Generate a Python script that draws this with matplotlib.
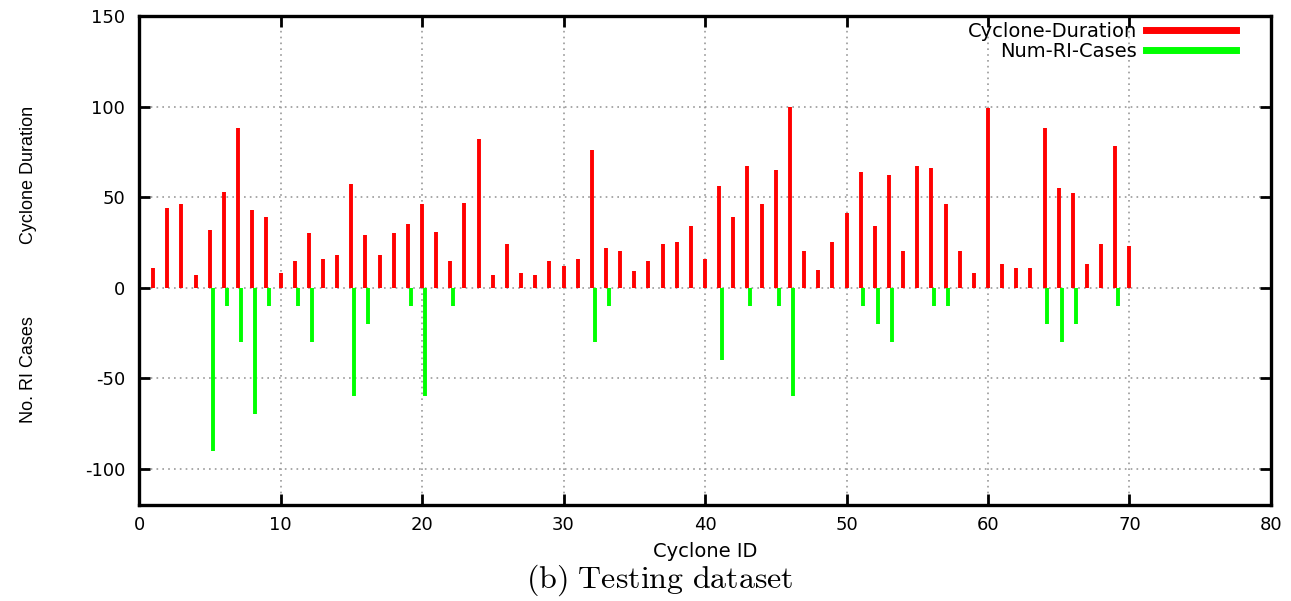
import matplotlib

matplotlib.use("Agg")

import matplotlib.pyplot as plt
from matplotlib.lines import Line2D

# Cyclone IDs 1..70 and their durations (hours).
cyclone_ids = list(range(1, 71))
cyclone_duration = [
    11, 44, 46, 7, 32, 53, 88, 43, 39, 8,
    15, 30, 16, 18, 57, 29, 18, 30, 35, 46,
    31, 15, 47, 82, 7, 24, 8, 7, 15, 12,
    16, 76, 22, 20, 9, 15, 24, 25, 34, 16,
    56, 39, 67, 46, 65, 100, 20, 10, 25, 41,
    64, 34, 62, 20, 67, 66, 46, 20, 8, 99,
    13, 11, 11, 88, 55, 52, 13, 24, 78, 23,
]

# RI cases are drawn downwards (negative), only for cyclones that have any.
ri_ids = [5, 6, 7, 8, 9, 11, 12, 15, 16, 19, 20, 22, 32, 33,
          41, 43, 45, 46, 51, 52, 53, 56, 57, 64, 65, 66, 69]
ri_values = [-90, -10, -30, -70, -10, -10, -30, -60, -20, -10, -60, -10, -30, -10,
             -40, -10, -10, -60, -10, -20, -30, -10, -10, -20, -30, -20, -10]

x_ticks = [0, 10, 20, 30, 40, 50, 60, 70, 80]
y_ticks = [-100, -50, 0, 50, 100, 150]

RED = "#ff0000"
GREEN = "#00ff00"
GREEN_SHIFT = 0.2  # gnuplot-style small offset for the second impulse series
BAR_LW = 2.8

plt.rcParams.update(
    {
        "font.family": "DejaVu Sans",
        "mathtext.fontset": "cm",
        "axes.unicode_minus": False,
    }
)

fig = plt.figure(figsize=(12.91, 6.01), dpi=100)
ax = fig.add_axes([0.1077, 0.1597, 0.8768, 0.8137])

ax.vlines(cyclone_ids, 0, cyclone_duration, color=RED, linewidth=BAR_LW, zorder=3)
ax.vlines(
    [i + GREEN_SHIFT for i in ri_ids], 0, ri_values,
    color=GREEN, linewidth=BAR_LW, zorder=3,
)

ax.set_xlim(0, 80)
ax.set_ylim(-120, 150)
ax.set_xticks(x_ticks)
ax.set_yticks(y_ticks)
ax.tick_params(
    direction="in", length=8, width=2, labelsize=13,
    top=True, right=True, labeltop=False, labelright=False,
)
ax.tick_params(axis="y", pad=10)
ax.tick_params(axis="x", pad=8)
for spine in ax.spines.values():
    spine.set_linewidth(2.4)

ax.grid(True, color="#9a9a9a", linestyle=(0, (1, 2.5)), linewidth=1.2, zorder=0)
ax.set_axisbelow(True)

ax.set_xlabel("Cyclone ID", fontsize=14, labelpad=6)

fig.text(0.022, 1 - 175 / 601, "Cyclone Duration", rotation=90,
         ha="center", va="center", fontsize=13, family="Liberation Sans")
fig.text(0.022, 1 - 370 / 601, "No. RI Cases", rotation=90,
         ha="center", va="center", fontsize=13, family="Liberation Sans")

fig.text(0.511, 1 - 580 / 601, r"$\mathrm{(b)\ Testing\ dataset}$",
         ha="center", va="center", fontsize=23)

handles = [
    Line2D([], [], color=RED, linewidth=5),
    Line2D([], [], color=GREEN, linewidth=5),
]
ax.legend(
    handles, ["Cyclone-Duration", "Num-RI-Cases"],
    loc="upper right", bbox_to_anchor=(0.969, 0.988),
    markerfirst=False, frameon=False, fontsize=14,
    handlelength=4.6, handletextpad=0.5, labelspacing=0.05,
    borderaxespad=0, borderpad=0,
)

fig.savefig("out.png", dpi=100)
plt.close(fig)
